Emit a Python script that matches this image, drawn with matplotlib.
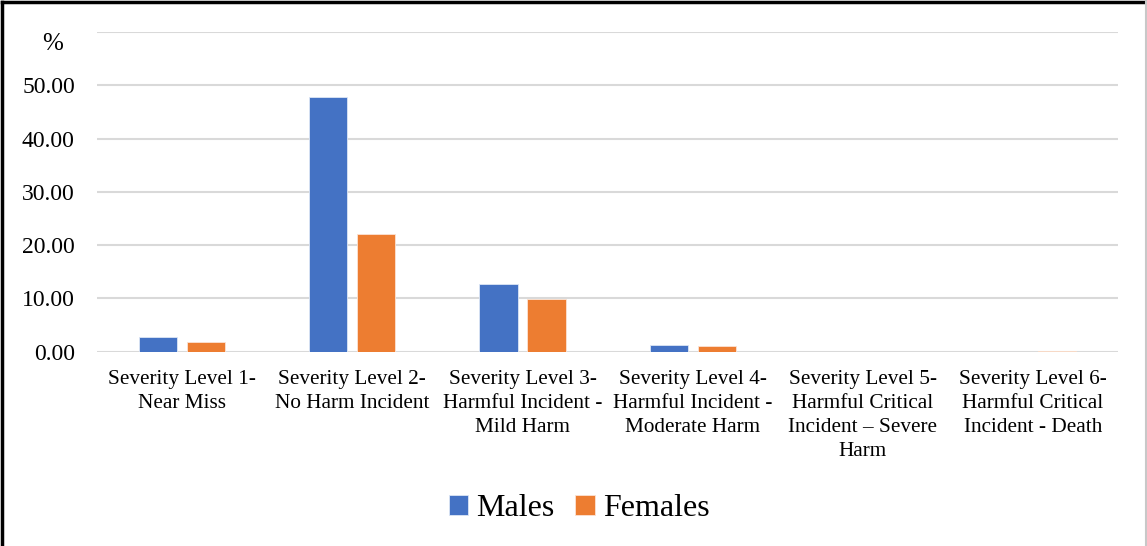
import matplotlib.pyplot as plt
import numpy as np

categories = [
    "Severity Level 1-\nNear Miss",
    "Severity Level 2-\nNo Harm Incident",
    "Severity Level 3-\nHarmful Incident -\nMild Harm",
    "Severity Level 4-\nHarmful Incident -\nModerate Harm",
    "Severity Level 5-\nHarmful Critical\nIncident \u2013 Severe\nHarm",
    "Severity Level 6-\nHarmful Critical\nIncident - Death",
]
males = [2.75, 47.90, 12.70, 1.20, 0.00, 0.00]
females = [1.75, 22.10, 9.80, 1.05, 0.00, 0.05]
yticks = [0, 10, 20, 30, 40, 50, 60]

plt.rcParams["font.family"] = ["Liberation Serif", "DejaVu Serif"]

fig = plt.figure(figsize=(11.47, 5.46), dpi=100)
ax = fig.add_axes([0.0846, 0.356, 0.8903, 0.585])

x = np.arange(len(categories))
w = 0.225
ax.bar(x - 0.141, males, w, color="#4472C4", label="Males",
       edgecolor="#dce6f5", linewidth=0.6, zorder=3)
ax.bar(x + 0.141, females, w, color="#ED7D31", label="Females",
       edgecolor="#fbe3d4", linewidth=0.6, zorder=3)

ax.set_xlim(-0.5, len(categories) - 0.5)
ax.set_ylim(0, 60)
ax.set_yticks(yticks)
ax.set_yticklabels([f"{v:.2f}" for v in yticks[:-1]] + [""], fontsize=17)
ax.set_xticks(x)
ax.set_xticklabels(categories, fontsize=15.3, linespacing=1.36)
ax.tick_params(length=0)
ax.tick_params(axis="x", pad=13)
ax.tick_params(axis="y", pad=16)
ax.grid(axis="y", color="#d9d9d9", linewidth=1.5, zorder=0)
for s in ax.spines.values():
    s.set_visible(False)

# percent unit marker at the top of the value axis
fig.text(0.0545, 0.92, "%", fontsize=18, ha="right", va="center")

fig.legend(loc="center", bbox_to_anchor=(0.505, 0.068), ncol=2, frameon=False,
           fontsize=23, handlelength=0.6, handleheight=0.6,
           handletextpad=0.25, columnspacing=0.65)

# outer frame
fig.add_artist(plt.Line2D([0.002, 0.002], [0, 0.997], color="black", lw=2.5,
                          transform=fig.transFigure))
fig.add_artist(plt.Line2D([0.002, 0.999], [0.997, 0.997], color="black", lw=2.5,
                          transform=fig.transFigure))
fig.add_artist(plt.Line2D([0.999, 0.999], [0, 0.997], color="#c8c8c8", lw=1.5,
                          transform=fig.transFigure))

fig.savefig("out.png", dpi=100)
